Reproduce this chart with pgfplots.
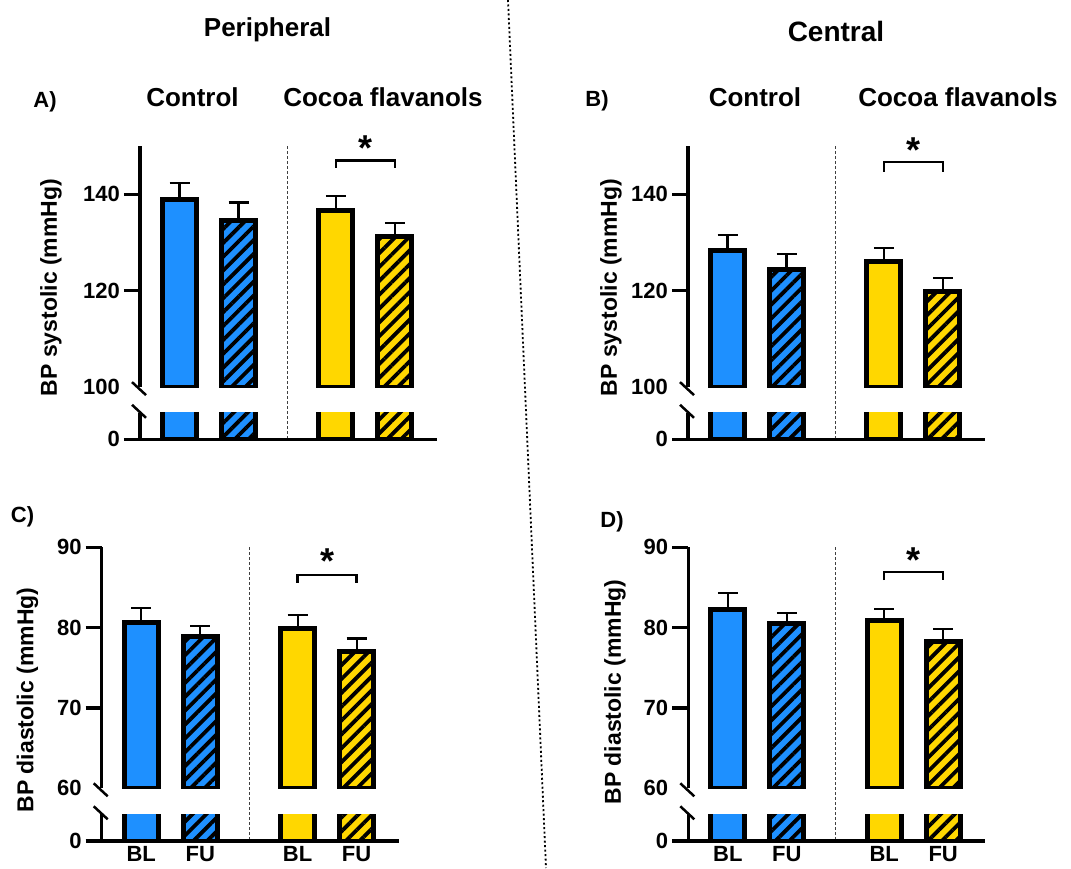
\documentclass[border=0pt]{standalone}
\usepackage{pgfplots}
\pgfplotsset{compat=1.18}
\usepackage{fontspec}
\setmainfont{Liberation Sans}
\usetikzlibrary{patterns.meta}
\definecolor{cblue}{RGB}{30,144,255}
\definecolor{cyel}{RGB}{255,215,0}
\pgfplotsset{
 common/.style={scale only axis, width=296.8pt, xmin=0.33, xmax=5.36,
   axis y line=left, axis line style={-, line width=3.5pt, black},
   every outer y axis line/.append style={-},
   tick align=outside, major tick length=16pt,
   tick style={line width=3.5pt, black},
   tick label style={font=\fontsize{22}{26}\selectfont\bfseries},
   yticklabel style={inner xsep=4pt},
   /pgf/number format/assume math mode=true,
   clip mode=individual},
 up/.style={common, height=241pt, axis x line=none},
 low/.style={common, height=26.5pt, ymin=0, ymax=10, ytick={0}, axis x line=bottom,
   every outer x axis line/.append style={-}, x axis line style={-}, xtick=\empty},
 lowlab/.style={xtick={1,2,3.65,4.65}, xticklabels={BL,FU,BL,FU}, xtick style={draw=none},
   xticklabel style={yshift=6pt}},
 b/.style={ybar, bar width=34pt, bar shift=0pt, draw=black, line width=5pt},
 sol/.style={b, fill=#1},
 hat/.style={b, preaction={fill=#1}, pattern={Lines[angle=45,distance=9.8pt,line width=3.8pt]}, pattern color=black},
 eb/.style={error bars/y dir=plus, error bars/y explicit, error bars/error bar style={line width=2.2pt, black}, error bars/error mark options={rotate=90, line width=2.2pt, black, mark size=10pt}},
}
\tikzset{
 dv/.style={line width=1.2pt, black!75, dash pattern=on 3pt off 2pt},
 br/.style={line width=2.5pt, black},
 star/.style={anchor=base, inner sep=0pt, font=\fontsize{36}{36}\selectfont\bfseries},
 ttl/.style={anchor=base, inner sep=0pt, font=\fontsize{26}{30}\selectfont\bfseries},
 ttlc/.style={anchor=base, inner sep=0pt, font=\fontsize{28}{30}\selectfont\bfseries},
 grp/.style={anchor=base, inner sep=0pt, font=\fontsize{26}{30}\selectfont\bfseries},
 pl/.style={anchor=base, inner sep=0pt, font=\fontsize{22}{26}\selectfont\bfseries},
 yl/.style={rotate=90, inner sep=0pt, font=\fontsize{23}{28}\selectfont\bfseries},
 brk/.style={line width=2.5pt, black},
}
\begin{document}
\begin{tikzpicture}
\useasboundingbox (0pt,0pt) rectangle (1071pt,868pt);
% ---------------- Panel A (peripheral systolic) ----------------
\begin{axis}[up, name=Au, at={(140pt,480.9pt)}, anchor=south west,
  ymin=100, ymax=150, ytick={120,140}, extra y ticks={100}, extra y tick style={tick style={draw=none}}]
\addplot[sol=cblue, eb] coordinates {(1,138.9) +- (0,3.4)};
\addplot[hat=cblue, eb] coordinates {(2,134.6) +- (0,3.7)};
\addplot[sol=cyel, eb] coordinates {(3.65,136.7) +- (0,2.9)};
\addplot[hat=cyel, eb] coordinates {(4.65,131.3) +- (0,2.8)};
\draw[dv] (axis cs:2.83,150) -- (axis cs:2.83,100) -- ++(0pt,-52.5pt);
\draw[br] (axis cs:3.65,145.5) |- (axis cs:4.65,147) -- (axis cs:4.65,145.5);
\node[star] at (axis cs:4.15,147) {*};
\end{axis}
\begin{axis}[low, name=Al, at={(140pt,428.7pt)}, anchor=south west]
\addplot[sol=cblue] coordinates {(1,138.9)};
\addplot[hat=cblue] coordinates {(2,134.6)};
\addplot[sol=cyel] coordinates {(3.65,136.7)};
\addplot[hat=cyel] coordinates {(4.65,131.3)};
\end{axis}
\draw[brk] ([shift={(-8pt,5pt)}]Au.south west) -- ++(14pt,-13pt);
\draw[brk] ([shift={(-8pt,8pt)}]Al.north west) -- ++(14pt,-13pt);
% ---------------- Panel B (central systolic) ----------------
\begin{axis}[up, name=Bu, at={(688pt,480.9pt)}, anchor=south west,
  ymin=100, ymax=150, ytick={120,140}, extra y ticks={100}, extra y tick style={tick style={draw=none}}]
\addplot[sol=cblue, eb] coordinates {(1,128.4) +- (0,3.1)};
\addplot[hat=cblue, eb] coordinates {(2,124.4) +- (0,3.2)};
\addplot[sol=cyel, eb] coordinates {(3.65,126.1) +- (0,2.8)};
\addplot[hat=cyel, eb] coordinates {(4.65,119.9) +- (0,2.8)};
\draw[dv] (axis cs:2.83,150) -- (axis cs:2.83,100) -- ++(0pt,-52.5pt);
\draw[br] (axis cs:3.65,144.7) |- (axis cs:4.65,146.7) -- (axis cs:4.65,144.7);
\node[star] at (axis cs:4.15,146.7) {*};
\end{axis}
\begin{axis}[low, name=Bl, at={(688pt,428.7pt)}, anchor=south west]
\addplot[sol=cblue] coordinates {(1,128.4)};
\addplot[hat=cblue] coordinates {(2,124.4)};
\addplot[sol=cyel] coordinates {(3.65,126.1)};
\addplot[hat=cyel] coordinates {(4.65,119.9)};
\end{axis}
\draw[brk] ([shift={(-8pt,5pt)}]Bu.south west) -- ++(14pt,-13pt);
\draw[brk] ([shift={(-8pt,8pt)}]Bl.north west) -- ++(14pt,-13pt);
% ---------------- Panel C (peripheral diastolic) ----------------
\begin{axis}[up, name=Cu, at={(101.7pt,79.7pt)}, anchor=south west,
  ymin=60, ymax=90, ytick={70,80,90}, extra y ticks={60}, extra y tick style={tick style={draw=none}}]
\addplot[sol=cblue, eb] coordinates {(1,80.66) +- (0,1.83)};
\addplot[hat=cblue, eb] coordinates {(2,78.9) +- (0,1.3)};
\addplot[sol=cyel, eb] coordinates {(3.65,79.9) +- (0,1.7)};
\addplot[hat=cyel, eb] coordinates {(4.65,77.05) +- (0,1.6)};
\draw[dv] (axis cs:2.83,90) -- (axis cs:2.83,60) -- ++(0pt,-52.7pt);
\draw[br] (axis cs:3.65,85.6) |- (axis cs:4.65,86.55) -- (axis cs:4.65,85.6);
\node[star] at (axis cs:4.15,86.7) {*};
\end{axis}
\begin{axis}[low, lowlab, name=Cl, at={(101.7pt,27pt)}, anchor=south west, height=26.7pt]
\addplot[sol=cblue] coordinates {(1,80.66)};
\addplot[hat=cblue] coordinates {(2,78.9)};
\addplot[sol=cyel] coordinates {(3.65,79.9)};
\addplot[hat=cyel] coordinates {(4.65,77.05)};
\end{axis}
\draw[brk] ([shift={(-8pt,5pt)}]Cu.south west) -- ++(14pt,-13pt);
\draw[brk] ([shift={(-8pt,8pt)}]Cl.north west) -- ++(14pt,-13pt);
% ---------------- Panel D (central diastolic) ----------------
\begin{axis}[up, name=Du, at={(688.3pt,79.7pt)}, anchor=south west,
  ymin=60, ymax=90, ytick={70,80,90}, extra y ticks={60}, extra y tick style={tick style={draw=none}}]
\addplot[sol=cblue, eb] coordinates {(1,82.2) +- (0,2.1)};
\addplot[hat=cblue, eb] coordinates {(2,80.46) +- (0,1.37)};
\addplot[sol=cyel, eb] coordinates {(3.65,80.87) +- (0,1.45)};
\addplot[hat=cyel, eb] coordinates {(4.65,78.26) +- (0,1.58)};
\draw[dv] (axis cs:2.83,90) -- (axis cs:2.83,60) -- ++(0pt,-52.7pt);
\draw[br] (axis cs:3.65,85.9) |- (axis cs:4.65,86.9) -- (axis cs:4.65,85.9);
\node[star] at (axis cs:4.15,86.9) {*};
\end{axis}
\begin{axis}[low, lowlab, name=Dl, at={(688.3pt,27pt)}, anchor=south west, height=26.7pt]
\addplot[sol=cblue] coordinates {(1,82.2)};
\addplot[hat=cblue] coordinates {(2,80.46)};
\addplot[sol=cyel] coordinates {(3.65,80.87)};
\addplot[hat=cyel] coordinates {(4.65,78.26)};
\end{axis}
\draw[brk] ([shift={(-8pt,5pt)}]Du.south west) -- ++(14pt,-13pt);
\draw[brk] ([shift={(-8pt,8pt)}]Dl.north west) -- ++(14pt,-13pt);
% ---------------- texts ----------------
\node[ttl] at (267.5pt,831.3pt) {Peripheral};
\node[ttlc] at (836pt,826.3pt) {Central};
\node[pl] at (45pt,760pt) {A)};
\node[grp] at (192.5pt,761pt) {Control};
\node[grp] at (383pt,761pt) {Cocoa flavanols};
\node[pl] at (597pt,761pt) {B)};
\node[grp] at (755pt,761pt) {Control};
\node[grp] at (958pt,761pt) {Cocoa flavanols};
\node[pl] at (22.5pt,345pt) {C)};
\node[pl] at (612pt,340pt) {D)};
\node[yl] at (51pt,580.5pt) {BP systolic (mmHg)};
\node[yl] at (611pt,580.5pt) {BP systolic (mmHg)};
\node[yl] at (27.5pt,168pt) {BP diastolic (mmHg)};
\node[yl] at (615pt,176pt) {BP diastolic (mmHg)};
% separator
\draw[line width=1.8pt, dash pattern=on 2pt off 2.5pt] (508pt,868pt) -- (546pt,0pt);
\end{tikzpicture}
\end{document}
